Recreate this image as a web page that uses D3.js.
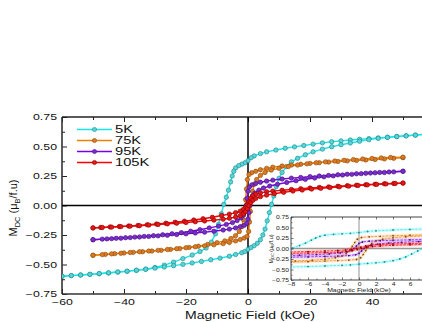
<!DOCTYPE html>
<html>
<head>
<meta charset="utf-8">
<script src="https://cdn.jsdelivr.net/npm/d3@7"></script>
<style>
  html, body { margin: 0; padding: 0; background: #fff; }
  svg { display: block; font-family: "Liberation Sans", Arial, sans-serif; }
</style>
</head>
<body>
<svg id="chart" width="422" height="322"></svg>
<script>
// Hysteresis loops M(H): [field kOe, moment], descending (+H -> -H) and ascending (-H -> +H)
const loop5K_down = [[60,0.61],[57,0.603],[54,0.597],[51,0.591],[48,0.585],[45,0.579],[42,0.573],[39,0.567],[36,0.561],[33,0.555],[30,0.548],[27,0.54],[24,0.531],[21,0.52],[18,0.508],[15,0.497],[12,0.485],[9,0.47],[6,0.455],[4,0.44],[2,0.42],[1,0.405],[0,0.38],[-1,0.362],[-2,0.35],[-3,0.338],[-4,0.318],[-4.6,0.29],[-5.1,0.25],[-5.6,0.2],[-6.3,0.13],[-7,0.07],[-7.8,0.01],[-8.6,-0.07],[-9.5,-0.16],[-10.5,-0.24],[-11.8,-0.31],[-13.5,-0.36],[-15.5,-0.39],[-18,-0.42],[-21,-0.45],[-24,-0.48],[-27,-0.505],[-30,-0.525],[-33,-0.54],[-36,-0.55],[-39,-0.558],[-42,-0.565],[-45,-0.572],[-48,-0.578],[-51,-0.584],[-54,-0.589],[-57,-0.594],[-60,-0.6]];
const loop5K_up = [[-60,-0.6],[-57,-0.594],[-54,-0.589],[-51,-0.583],[-48,-0.577],[-45,-0.57],[-42,-0.563],[-39,-0.556],[-36,-0.548],[-33,-0.54],[-30,-0.531],[-27,-0.521],[-24,-0.51],[-21,-0.499],[-18,-0.487],[-15,-0.474],[-12,-0.46],[-9,-0.446],[-6,-0.43],[-4,-0.415],[-2,-0.4],[-1,-0.39],[0,-0.372],[1,-0.356],[2,-0.34],[3,-0.32],[4,-0.29],[4.8,-0.25],[5.5,-0.2],[6.2,-0.13],[6.9,-0.06],[7.6,0.01],[8.3,0.08],[9.1,0.16],[10,0.23],[11,0.28],[12.4,0.33],[14,0.37],[16,0.4],[18.5,0.43],[21,0.455],[24,0.478],[27,0.498],[30,0.515],[33,0.53],[36,0.545],[39,0.558],[42,0.569],[45,0.577],[48,0.584],[51,0.59],[54,0.596],[57,0.602],[60,0.608]];

const loop75K_down = [[50,0.405],[47,0.4],[44,0.395],[41,0.39],[38,0.386],[35,0.382],[32,0.378],[29,0.373],[26,0.368],[23,0.363],[20,0.357],[17,0.35],[14,0.343],[11,0.335],[8,0.325],[6,0.315],[4,0.303],[2.5,0.29],[1.2,0.278],[0.3,0.262],[-0.2,0.22],[-0.5,0.14],[-0.8,0.05],[-1.1,-0.04],[-1.5,-0.12],[-2,-0.18],[-2.8,-0.22],[-4,-0.255],[-5.5,-0.28],[-7.5,-0.3],[-10,-0.315],[-13,-0.33],[-16,-0.345],[-19,-0.355],[-22,-0.365],[-25,-0.372],[-28,-0.38],[-31,-0.386],[-34,-0.392],[-37,-0.397],[-40,-0.402],[-43,-0.408],[-46,-0.414],[-50,-0.422]];
const loop75K_up = [[-50,-0.422],[-47,-0.416],[-44,-0.41],[-41,-0.405],[-38,-0.398],[-35,-0.392],[-32,-0.386],[-29,-0.38],[-26,-0.373],[-23,-0.366],[-20,-0.358],[-17,-0.35],[-14,-0.342],[-11,-0.333],[-8,-0.323],[-6,-0.313],[-4,-0.3],[-2.5,-0.288],[-1.2,-0.276],[-0.3,-0.262],[0.2,-0.22],[0.5,-0.14],[0.8,-0.05],[1.1,0.04],[1.5,0.12],[2,0.18],[2.8,0.22],[4,0.255],[5.5,0.28],[7.5,0.3],[10,0.315],[13,0.33],[16,0.343],[19,0.353],[22,0.362],[25,0.37],[28,0.377],[31,0.383],[34,0.389],[37,0.394],[40,0.399],[43,0.403],[46,0.407],[50,0.41]];

const loop95K_down = [[50,0.29],[47,0.285],[44,0.28],[41,0.277],[38,0.273],[35,0.269],[32,0.265],[29,0.26],[26,0.255],[23,0.25],[20,0.245],[17,0.238],[14,0.232],[11,0.224],[8,0.215],[6,0.207],[4,0.197],[2.5,0.187],[1.2,0.175],[0.4,0.155],[0,0.12],[-0.3,0.06],[-0.6,0],[-0.9,-0.045],[-1.4,-0.08],[-2.2,-0.105],[-3.5,-0.128],[-5,-0.145],[-7,-0.16],[-9.5,-0.175],[-12.5,-0.19],[-15.5,-0.205],[-18.5,-0.218],[-21.5,-0.23],[-24.5,-0.24],[-27.5,-0.248],[-30.5,-0.256],[-33.5,-0.262],[-36.5,-0.268],[-39.5,-0.273],[-42.5,-0.278],[-45.5,-0.283],[-50,-0.29]];
const loop95K_up = [[-50,-0.29],[-47,-0.285],[-44,-0.281],[-41,-0.277],[-38,-0.272],[-35,-0.267],[-32,-0.262],[-29,-0.257],[-26,-0.252],[-23,-0.246],[-20,-0.24],[-17,-0.233],[-14,-0.226],[-11,-0.218],[-8,-0.208],[-6,-0.2],[-4,-0.19],[-2.5,-0.18],[-1.2,-0.168],[-0.4,-0.15],[0,-0.115],[0.3,-0.06],[0.6,0],[0.9,0.045],[1.4,0.08],[2.2,0.105],[3.5,0.13],[5,0.148],[7,0.165],[9.5,0.18],[12.5,0.195],[15.5,0.21],[18.5,0.222],[21.5,0.233],[24.5,0.243],[27.5,0.251],[30.5,0.258],[33.5,0.264],[36.5,0.27],[39.5,0.275],[42.5,0.28],[45.5,0.284],[50,0.29]];

const loop105K_down = [[50,0.19],[47,0.187],[44,0.184],[41,0.18],[38,0.176],[35,0.172],[32,0.168],[29,0.163],[26,0.158],[23,0.153],[20,0.148],[17,0.142],[14,0.136],[11,0.129],[8,0.122],[6,0.116],[4,0.107],[2.5,0.095],[1.5,0.08],[0.8,0.06],[0.2,0.03],[-0.3,0.005],[-0.9,-0.02],[-1.6,-0.035],[-2.5,-0.048],[-4,-0.06],[-6,-0.073],[-8.5,-0.085],[-11.5,-0.1],[-14.5,-0.112],[-17.5,-0.123],[-20.5,-0.133],[-23.5,-0.142],[-26.5,-0.15],[-29.5,-0.157],[-32.5,-0.163],[-35.5,-0.169],[-38.5,-0.174],[-41.5,-0.178],[-44.5,-0.182],[-47.5,-0.186],[-50,-0.19]];
const loop105K_up = [[-50,-0.19],[-47,-0.187],[-44,-0.183],[-41,-0.179],[-38,-0.175],[-35,-0.171],[-32,-0.166],[-29,-0.161],[-26,-0.156],[-23,-0.15],[-20,-0.144],[-17,-0.138],[-14,-0.131],[-11,-0.124],[-8,-0.116],[-6,-0.108],[-4,-0.098],[-2.5,-0.087],[-1.5,-0.072],[-0.8,-0.052],[-0.2,-0.025],[0.3,0],[0.9,0.025],[1.6,0.045],[2.5,0.06],[4,0.075],[6,0.088],[8.5,0.1],[11.5,0.112],[14.5,0.122],[17.5,0.131],[20.5,0.139],[23.5,0.146],[26.5,0.152],[29.5,0.158],[32.5,0.164],[35.5,0.17],[38.5,0.175],[41.5,0.179],[44.5,0.183],[47.5,0.187],[50,0.19]];

const seriesNames = ['5K', '75K', '95K', '105K'];
const lineColors = ['#19e6e8', '#f08000', '#7a00e6', '#ff0000'];
const markerFills = ['#5cd4d6', '#dc7a22', '#7a2ccc', '#e41818'];
const markerStrokes = ['#168a90', '#8a4a10', '#46107c', '#8a0000'];
const loops = [[loop5K_down, loop5K_up], [loop75K_down, loop75K_up], [loop95K_down, loop95K_up], [loop105K_down, loop105K_up]];

const xTicks = [-60, -40, -20, 0, 20, 40, 60];
const xTickLabels = [-60, -40, -20, 0, 20, 40];
const xMinorTicks = [-50, -30, -10, 10, 30, 50];
const yTicks = [-0.75, -0.5, -0.25, 0, 0.25, 0.5, 0.75];
const yMinorTicks = [-0.625, -0.375, -0.125, 0.125, 0.375, 0.625];
const insetXTicks = [-8, -6, -4, -2, 0, 2, 4, 6, 8];
const insetXTickLabels = [-8, -6, -4, -2, 0, 2, 4, 6];
const insetXMinorTicks = [-7, -5, -3, -1, 1, 3, 5, 7];

const svg = d3.select('#chart');

// Widen text horizontally (the reference glyphs are stretched)
function stretch(sel, sx) {
    sel.each(function() {
        const t = d3.select(this);
        const tx = +t.attr('x') || 0;
        t.attr('x', 0).attr('transform', `translate(${tx},0) scale(${sx},1)`);
    });
}

// ---------- main plot ----------
const x = d3.scaleLinear().domain([-60, 60]).range([62, 434]);
const y = d3.scaleLinear().domain([-0.75, 0.75]).range([294, 117]);

svg.append('clipPath').attr('id', 'mainClip')
    .append('rect').attr('x', 62).attr('y', 117).attr('width', 372).attr('height', 177);

function styleAxis(g) {
    g.select('.domain').remove();
    g.selectAll('line').attr('stroke', '#222').attr('stroke-width', 1);
}

// bottom axis: ticks, then labels
svg.append('g').attr('transform', `translate(0,${y(-0.75)})`)
    .call(d3.axisBottom(x).tickValues(xTicks).tickSize(-5).tickFormat(''))
    .call(styleAxis);
const gx = svg.append('g').attr('transform', `translate(0,${y(-0.75)})`)
    .call(d3.axisBottom(x).tickValues(xTickLabels).tickSize(0).tickPadding(5).tickFormat(d3.format('d')));
styleAxis(gx);
gx.selectAll('text').attr('font-size', 8.5).attr('fill', '#111');
svg.append('g').attr('transform', `translate(0,${y(-0.75)})`)
    .call(d3.axisBottom(x).tickValues(xMinorTicks).tickSize(-3).tickFormat(''))
    .call(styleAxis);
// top axis ticks
svg.append('g').attr('transform', `translate(0,${y(0.75)})`)
    .call(d3.axisTop(x).tickValues(xTicks).tickSize(-5).tickFormat(''))
    .call(styleAxis);
svg.append('g').attr('transform', `translate(0,${y(0.75)})`)
    .call(d3.axisTop(x).tickValues(xMinorTicks).tickSize(-3).tickFormat(''))
    .call(styleAxis);
// left axis
const gy = svg.append('g').attr('transform', `translate(${x(-60)},0)`)
    .call(d3.axisLeft(y).tickValues(yTicks).tickSize(-5).tickPadding(5).tickFormat(d3.format('.2f')));
styleAxis(gy);
gy.selectAll('text').attr('font-size', 8.5).attr('fill', '#111');
svg.append('g').attr('transform', `translate(${x(-60)},0)`)
    .call(d3.axisLeft(y).tickValues(yMinorTicks).tickSize(-3).tickFormat(''))
    .call(styleAxis);

gx.selectAll('text').call(stretch, 1.45);
gy.selectAll('text').each(function() {
    d3.select(this).attr('x', -5);
}).call(stretch, 1.45);

// frame
svg.append('line').attr('x1', x(-60)).attr('x2', x(-60)).attr('y1', y(0.75)).attr('y2', y(-0.75))
    .attr('stroke', '#333').attr('stroke-width', 1.6);
svg.append('line').attr('x1', x(-60)).attr('x2', 422).attr('y1', y(-0.75)).attr('y2', y(-0.75))
    .attr('stroke', '#333').attr('stroke-width', 1.6);
svg.append('line').attr('x1', x(-60)).attr('x2', 422).attr('y1', y(0.75)).attr('y2', y(0.75))
    .attr('stroke', '#222').attr('stroke-width', 1.6);

// zero lines
svg.append('line').attr('x1', x(-60)).attr('x2', 422).attr('y1', y(0)).attr('y2', y(0))
    .attr('stroke', '#000').attr('stroke-width', 1.5);
svg.append('line').attr('x1', x(0)).attr('x2', x(0)).attr('y1', y(0.75)).attr('y2', y(-0.75))
    .attr('stroke', '#000').attr('stroke-width', 1.5);

// curves
const plot = svg.append('g').attr('clip-path', 'url(#mainClip)');
const line = d3.line().x(d => x(d[0])).y(d => y(d[1]));
loops.forEach((branches, i) => {
    const g = plot.append('g');
    branches.forEach(b => {
        g.append('path').datum(b).attr('d', line)
            .attr('fill', 'none').attr('stroke', lineColors[i]).attr('stroke-width', 1.4);
    });
    branches.forEach(b => {
        g.selectAll(null).data(b).join('circle')
            .attr('cx', d => x(d[0])).attr('cy', d => y(d[1])).attr('r', 2.2)
            .attr('fill', markerFills[i]).attr('stroke', markerStrokes[i]).attr('stroke-width', 0.6);
    });
});

// legend
const legend = svg.append('g');
seriesNames.forEach((name, i) => {
    const ly = 129.5 + i * 11;
    legend.append('line').attr('x1', 77).attr('x2', 112).attr('y1', ly).attr('y2', ly)
        .attr('stroke', lineColors[i]).attr('stroke-width', 1.5);
    legend.append('circle').attr('cx', 94.5).attr('cy', ly).attr('r', 2.1)
        .attr('fill', markerFills[i]).attr('stroke', markerStrokes[i]).attr('stroke-width', 0.6);
    legend.append('text').attr('x', 115).attr('y', ly + 4).attr('font-size', 10.5).attr('fill', '#111')
        .text(name).call(stretch, 1.4);
});

// axis titles
svg.append('text').attr('x', 250).attr('y', 319.5).attr('text-anchor', 'middle')
    .attr('font-size', 11.5).attr('fill', '#111')
    .text('Magnetic Field (kOe)').call(stretch, 1.22);

const yTitle = svg.append('text').attr('transform', 'translate(17,208) rotate(-90)')
    .attr('text-anchor', 'middle').attr('font-size', 11).attr('fill', '#111');
yTitle.append('tspan').text('M');
yTitle.append('tspan').attr('font-size', 7.5).attr('dy', 2.5).text('DC');
yTitle.append('tspan').attr('dy', -2.5).text(' (\u03bc');
yTitle.append('tspan').attr('font-size', 7.5).attr('dy', 2.5).text('B');
yTitle.append('tspan').attr('dy', -2.5).text('/f.u)');

// ---------- inset ----------
const ix = d3.scaleLinear().domain([-8, 8]).range([291, 427]);
const iy = d3.scaleLinear().domain([-0.75, 0.75]).range([280, 217]);

svg.append('rect').attr('x', 291).attr('y', 217).attr('width', 140).attr('height', 63).attr('fill', '#fff');
svg.append('clipPath').attr('id', 'insetClip')
    .append('rect').attr('x', 291).attr('y', 217).attr('width', 140).attr('height', 63);

const ig = svg.append('g');
// gray zero lines
ig.append('line').attr('x1', 291).attr('x2', 422).attr('y1', iy(0)).attr('y2', iy(0))
    .attr('stroke', '#999').attr('stroke-width', 1.6);
ig.append('line').attr('x1', ix(0)).attr('x2', ix(0)).attr('y1', 217).attr('y2', 280)
    .attr('stroke', '#777').attr('stroke-width', 0.8);

const iplot = ig.append('g').attr('clip-path', 'url(#insetClip)');
const iline = d3.line().x(d => ix(d[0])).y(d => iy(d[1]));
loops.forEach((branches, i) => {
    branches.forEach(b => {
        iplot.append('path').datum(b).attr('d', iline)
            .attr('fill', 'none').attr('stroke', lineColors[i]).attr('stroke-width', 3.5).attr('opacity', 0.15);
        iplot.append('path').datum(b).attr('d', iline)
            .attr('fill', 'none').attr('stroke', lineColors[i]).attr('stroke-width', 0.7)
            .attr('stroke-dasharray', '2.5,1.2');
        iplot.selectAll(null).data(b).join('circle')
            .attr('cx', d => ix(d[0])).attr('cy', d => iy(d[1])).attr('r', 0.9)
            .attr('fill', markerStrokes[i]);
    });
});

// inset axes
ig.append('g').attr('transform', 'translate(0,280)')
    .call(d3.axisBottom(ix).tickValues(insetXTicks).tickSize(-2.5).tickFormat(''))
    .call(styleAxis).selectAll('line').attr('stroke-width', 0.6);
const igx = ig.append('g').attr('transform', 'translate(0,280)')
    .call(d3.axisBottom(ix).tickValues(insetXTickLabels).tickSize(0).tickPadding(2).tickFormat(d3.format('d')));
styleAxis(igx);
igx.selectAll('text').attr('font-size', 5).attr('fill', '#222').call(stretch, 1.35);
ig.append('g').attr('transform', 'translate(0,280)')
    .call(d3.axisBottom(ix).tickValues(insetXMinorTicks).tickSize(-1.5).tickFormat(''))
    .call(styleAxis).selectAll('line').attr('stroke-width', 0.6);
ig.append('g').attr('transform', 'translate(0,217)')
    .call(d3.axisTop(ix).tickValues(insetXTicks).tickSize(-2.5).tickFormat(''))
    .call(styleAxis).selectAll('line').attr('stroke-width', 0.6);
const igy = ig.append('g').attr('transform', 'translate(291,0)')
    .call(d3.axisLeft(iy).tickValues(yTicks).tickSize(-2.5).tickPadding(2).tickFormat(d3.format('.2f')));
styleAxis(igy);
igy.selectAll('line').attr('stroke-width', 0.6);
igy.selectAll('text').attr('font-size', 5).attr('fill', '#222').each(function() {
    d3.select(this).attr('x', -2);
}).call(stretch, 1.35);
ig.append('g').attr('transform', 'translate(291,0)')
    .call(d3.axisLeft(iy).tickValues(yMinorTicks).tickSize(-1.5).tickFormat(''))
    .call(styleAxis).selectAll('line').attr('stroke-width', 0.6);

ig.append('line').attr('x1', 291).attr('x2', 291).attr('y1', 217).attr('y2', 280).attr('stroke', '#444').attr('stroke-width', 1);
ig.append('line').attr('x1', 291).attr('x2', 422).attr('y1', 280).attr('y2', 280).attr('stroke', '#444').attr('stroke-width', 1);
ig.append('line').attr('x1', 291).attr('x2', 422).attr('y1', 217).attr('y2', 217).attr('stroke', '#444').attr('stroke-width', 1);

ig.append('text').attr('x', ix(0)).attr('y', 292).attr('text-anchor', 'middle')
    .attr('font-size', 5.5).attr('fill', '#222').text('Magnetic Field (kOe)').call(stretch, 1.25);
const iyTitle = ig.append('text').attr('transform', 'translate(273,249) rotate(-90)')
    .attr('text-anchor', 'middle').attr('font-size', 5.5).attr('fill', '#222');
iyTitle.append('tspan').text('M');
iyTitle.append('tspan').attr('font-size', 4).attr('dy', 1.2).text('DC');
iyTitle.append('tspan').attr('dy', -1.2).text(' (\u03bc');
iyTitle.append('tspan').attr('font-size', 4).attr('dy', 1.2).text('B');
iyTitle.append('tspan').attr('dy', -1.2).text('/f.u)');
</script>
</body>
</html>
